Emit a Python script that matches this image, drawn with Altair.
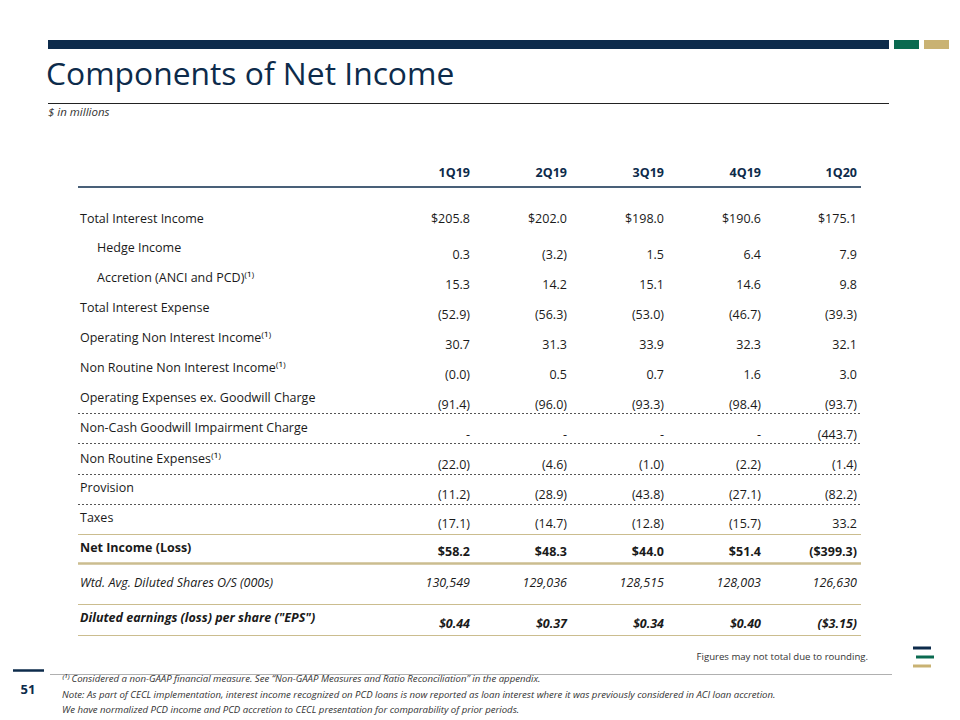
import math
import altair as alt
import pandas as pd

# ---------------- data ----------------
quarters = ["1Q19", "2Q19", "3Q19", "4Q19", "1Q20"]

row_labels = [
    "Total Interest Income",
    "Hedge Income",
    "Accretion (ANCI and PCD)⁽¹⁾",
    "Total Interest Expense",
    "Operating Non Interest Income⁽¹⁾",
    "Non Routine Non Interest Income⁽¹⁾",
    "Operating Expenses ex. Goodwill Charge",
    "Non-Cash Goodwill Impairment Charge",
    "Non Routine Expenses⁽¹⁾",
    "Provision",
    "Taxes",
    "Net Income (Loss)",
    "Wtd. Avg. Diluted Shares O/S (000s)",
    'Diluted earnings (loss) per share ("EPS")',
]

total_interest_income = [205.8, 202.0, 198.0, 190.6, 175.1]
hedge_income = [0.3, -3.2, 1.5, 6.4, 7.9]
accretion = [15.3, 14.2, 15.1, 14.6, 9.8]
total_interest_expense = [-52.9, -56.3, -53.0, -46.7, -39.3]
operating_nii = [30.7, 31.3, 33.9, 32.3, 32.1]
non_routine_nii = [-0.0, 0.5, 0.7, 1.6, 3.0]
operating_expenses = [-91.4, -96.0, -93.3, -98.4, -93.7]
goodwill_charge = [None, None, None, None, -443.7]
non_routine_expenses = [-22.0, -4.6, -1.0, -2.2, -1.4]
provision = [-11.2, -28.9, -43.8, -27.1, -82.2]
taxes = [-17.1, -14.7, -12.8, -15.7, 33.2]
net_income = [58.2, 48.3, 44.0, 51.4, -399.3]
diluted_shares = [130549, 129036, 128515, 128003, 126630]
eps = [0.44, 0.37, 0.34, 0.40, -3.15]

row_values = [
    total_interest_income, hedge_income, accretion, total_interest_expense,
    operating_nii, non_routine_nii, operating_expenses, goodwill_charge,
    non_routine_expenses, provision, taxes, net_income, diluted_shares, eps,
]

title_text = "Components of Net Income"
subtitle_text = "$ in millions"
rounding_note = "Figures may not total due to rounding."
page_number = "51"
footnotes = [
    "⁽¹⁾ Considered a non-GAAP financial measure. See \u201cNon-GAAP Measures and Ratio Reconciliation\u201d in the appendix.",
    "Note: As part of CECL implementation, interest income recognized on PCD loans is now reported as loan interest where it was previously considered in ACI loan accretion.",
    "We have normalized PCD income and PCD accretion to CECL presentation for comparability of prior periods.",
]

# ---------------- layout / style ----------------
NAVY = "#0d2b4b"
GREEN = "#0a6a50"
GOLD = "#c9b273"
GOLD_LINE = "#cbbd8f"
TEXT = "#1a1a1a"
FONT = "Open Sans"

row_style = ["dollar", "plain", "plain", "plain", "plain", "plain", "plain",
             "plain", "plain", "plain", "plain", "bold", "italic", "bolditalic"]
row_dollar = [True] + [False] * 10 + [True, False, True]
row_decimals = [1] * 12 + [0, 2]
row_indent = [False, True, True] + [False] * 11
label_y = [219, 248, 278, 308, 338, 368, 398, 428, 459, 488, 518, 548, 583, 618]
value_y = [219, 255, 285, 315, 345, 375, 405, 435, 465, 495, 524, 552, 583, 624]
col_right = [470, 567, 664, 761, 857]
label_x = 80
indent_x = 97

CH_H = 711  # plot height in px (page y 8 .. 8+CH_H)


def fmt(v, dollar, decimals):
    if v is None:
        return "-"
    neg = v < 0 or (v == 0 and math.copysign(1, v) < 0)
    s = f"{abs(v):,.{decimals}f}"
    if dollar:
        s = "$" + s
    return f"({s})" if neg else s


# page-pixel scales (chart origin sits at page 8,8)
X = alt.X("x:Q", scale=alt.Scale(domain=[8, 952]), axis=None)
Y = alt.Y("y:Q", scale=alt.Scale(domain=[8 + CH_H, 8]), axis=None)
X2 = alt.X2("x2:Q")
Y2 = alt.Y2("y2:Q")

layers = []

# header bars and small logo bars
bars = pd.DataFrame({
    "x": [48, 894, 924, 913, 916, 913],
    "x2": [889, 919, 949, 931, 934, 931],
    "y": [40, 40, 40, 646.5, 655.5, 664.5],
    "y2": [49, 49, 49, 649.5, 658.5, 667.5],
    "c": [NAVY, GREEN, GOLD, NAVY, GREEN, GOLD],
})
layers.append(alt.Chart(bars).mark_rect().encode(
    x=X, x2=X2, y=Y, y2=Y2, color=alt.Color("c:N", scale=None)))


def rule_layer(df, color, width, dash=None):
    kw = dict(color=color, strokeWidth=width)
    if dash:
        kw["strokeDash"] = dash
    return alt.Chart(df).mark_rule(**kw).encode(x=X, x2=X2, y=Y)


layers.append(rule_layer(pd.DataFrame({"x": [48], "x2": [889], "y": [103.5]}), "#222222", 1))
layers.append(rule_layer(pd.DataFrame({"x": [78], "x2": [861], "y": [187]}), NAVY, 1.5))
layers.append(rule_layer(pd.DataFrame({"x": [78] * 4, "x2": [861] * 4,
                                       "y": [413.5, 443.5, 474.5, 504.5]}), "#555555", 1, [2, 2]))
layers.append(rule_layer(pd.DataFrame({"x": [78] * 3, "x2": [861] * 3,
                                       "y": [534.5, 604.5, 635.5]}), GOLD_LINE, 1.2))
layers.append(rule_layer(pd.DataFrame({"x": [78], "x2": [861], "y": [563.5]}), GOLD_LINE, 2.5))
layers.append(rule_layer(pd.DataFrame({"x": [50], "x2": [892], "y": [674.5]}), "#b0b0b0", 1))
layers.append(rule_layer(pd.DataFrame({"x": [13], "x2": [44], "y": [670.5]}), NAVY, 2.5))


def text_layer(df, size, align="left", weight="normal", style="normal", color=TEXT, font=FONT):
    return alt.Chart(df).mark_text(
        align=align, baseline="middle", fontSize=size, fontWeight=weight,
        fontStyle=style, color=color, font=font,
    ).encode(x=X, y=Y, text="t:N")


# title and subtitle
layers.append(text_layer(pd.DataFrame({"x": [46], "y": [75], "t": [title_text]}), 31.8,
                         weight="normal", color=NAVY))
layers.append(text_layer(pd.DataFrame({"x": [48], "y": [113], "t": [subtitle_text]}), 11.5,
                         style="italic", color="#333333"))

# column headers
hdr = pd.DataFrame({"x": col_right, "y": [173] * 5, "t": quarters})
layers.append(text_layer(hdr, 12.5, align="right", weight="bold", color=NAVY))

# table body
groups = {}
for i, lab in enumerate(row_labels):
    st = row_style[i]
    groups.setdefault(st, {"lab": [], "val": []})
    groups[st]["lab"].append({"x": indent_x if row_indent[i] else label_x, "y": label_y[i], "t": lab})
    for j, v in enumerate(row_values[i]):
        groups[st]["val"].append({"x": col_right[j], "y": value_y[i],
                                  "t": fmt(v, row_dollar[i], row_decimals[i])})

style_map = {
    "dollar": ("normal", "normal"),
    "plain": ("normal", "normal"),
    "bold": ("bold", "normal"),
    "italic": ("normal", "italic"),
    "bolditalic": ("bold", "italic"),
}
for st, g in groups.items():
    w, s = style_map[st]
    layers.append(text_layer(pd.DataFrame(g["lab"]), 12.5, weight=w, style=s))
    layers.append(text_layer(pd.DataFrame(g["val"]), 12.5, align="right", weight=w, style=s))

# notes
layers.append(text_layer(pd.DataFrame({"x": [868], "y": [657], "t": [rounding_note]}), 9.6,
                         align="right", color="#333333"))
layers.append(text_layer(pd.DataFrame({"x": [28], "y": [690], "t": [page_number]}), 13,
                         align="center", weight="bold", color=NAVY))
layers.append(text_layer(pd.DataFrame({"x": [62] * 3, "y": [679, 694.5, 710], "t": footnotes}), 9.6,
                         style="italic", color="#333333"))

chart = alt.layer(*layers).properties(
    width=944, height=CH_H, padding=0, autosize="none", background="white",
).configure_view(stroke=None)

chart.save("out.html", embed_options={"renderer": "svg", "actions": False})
